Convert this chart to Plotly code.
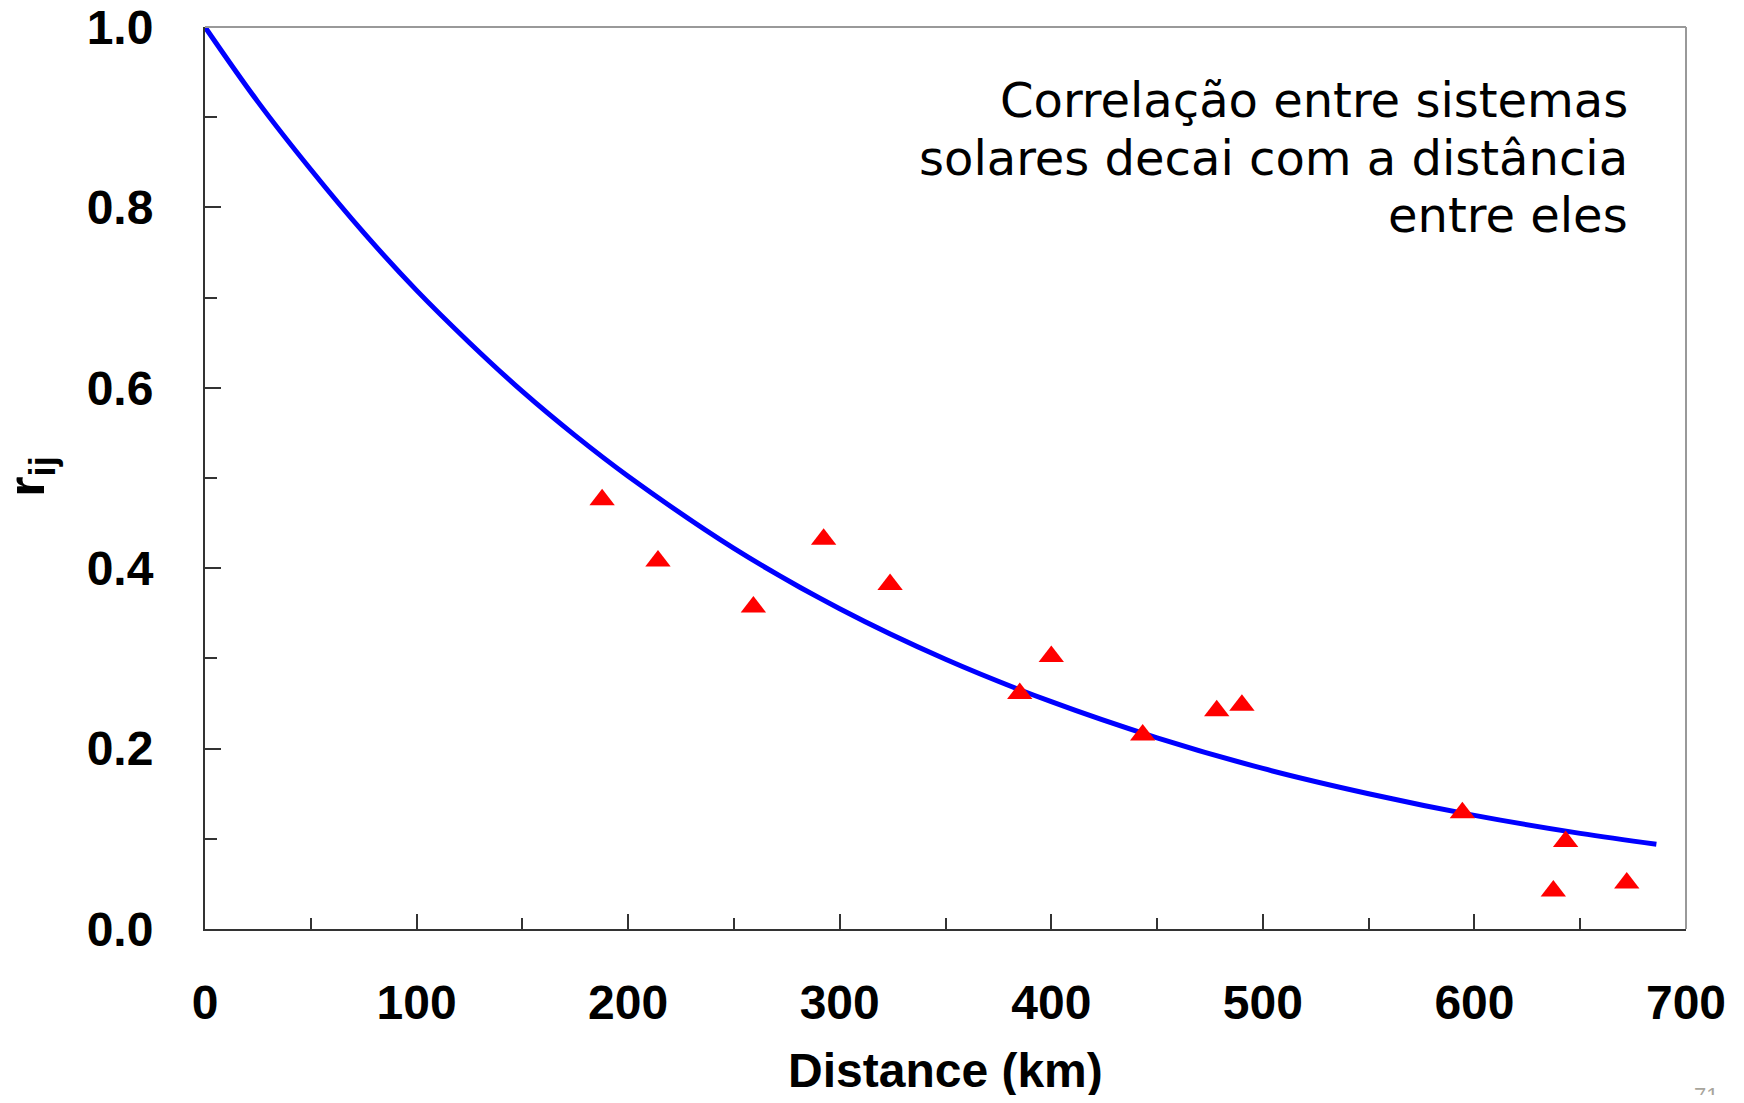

# Import needed libraries
import plotly.graph_objects as go

# Measured pairs: distance between solar systems and their correlation
distance_km = [187.7, 214.1, 259.2, 292.4, 323.8, 385.1, 400.0, 443.2, 478.2, 490.1, 594.3, 637.3, 643.1, 672.0]
correlation = [0.476, 0.408, 0.357, 0.432, 0.382, 0.261, 0.302, 0.215, 0.242, 0.248, 0.129, 0.042, 0.097, 0.051]

# Fitted decay curve
fit_km = [0, 25, 50, 75, 100, 125, 150, 175, 200, 250, 300, 350, 400, 450, 500, 550, 600, 650, 686]
fit_r = [1.000, 0.917, 0.842, 0.772, 0.708, 0.650, 0.596, 0.547, 0.502, 0.422, 0.355, 0.299,
         0.252, 0.212, 0.178, 0.150, 0.126, 0.106, 0.094]

# Axis ticks
x_ticks = [0, 100, 200, 300, 400, 500, 600, 700]
y_ticks = [0.0, 0.2, 0.4, 0.6, 0.8, 1.0]

x_title = "Distance (km)"
y_title = "r<sub>ij</sub>"
note_lines = ["Correlação entre sistemas", "solares decai com a distância", "entre eles"]
note_y = [0.919, 0.855, 0.792]
page_number = "71"

axisCol = '#333333'
frameCol = '#999999'
boldFont = dict(family="Liberation Sans, Arial", size=48, color='#000', weight='bold')

fig = go.Figure()

fig.add_trace(go.Scatter(
    x=fit_km, y=fit_r,
    mode='lines',
    line=dict(color='#0000ff', width=5, shape='spline'),
    cliponaxis=False,
    showlegend=False
))

fig.add_trace(go.Scatter(
    x=distance_km, y=correlation,
    mode='markers',
    marker=dict(symbol='triangle-up', size=22, color='#ff0000'),
    cliponaxis=False,
    showlegend=False
))

annotations = [
    # Axis titles (placed by hand, the margins would squeeze real axis titles)
    dict(
        text=x_title,
        showarrow=False,
        xref='paper', yref='paper',
        x=0.5, y=-0.157,
        xanchor='center', yanchor='middle',
        font=dict(family="Liberation Sans, Arial", size=48, color='#000', weight='bold')
    ),
    dict(
        text=y_title,
        showarrow=False,
        textangle=-90,
        xref='paper', yref='paper',
        x=-0.1178, y=0.501,
        xanchor='center', yanchor='middle',
        font=dict(family="Liberation Sans, Arial", size=52, color='#000', weight='bold')
    ),
]

# Note in the top right corner, one annotation per line
for line, y in zip(note_lines, note_y):
    annotations.append(dict(
        text=line,
        showarrow=False,
        xref='paper', yref='paper',
        x=0.962, y=y,
        xanchor='right', yanchor='middle',
        font=dict(family="DejaVu Sans", size=48, color='#000')
    ))

# Slide number
annotations.append(dict(
    text=page_number,
    showarrow=False,
    xref='paper', yref='paper',
    x=1.0135, y=-0.185,
    xanchor='center', yanchor='middle',
    font=dict(family="Liberation Sans, Arial", size=22, color='#a8a59c')
))

fig.update_layout(
    # page body keeps an 8px margin, so the figure is a bit smaller than the window
    width=1728,
    height=1087,
    plot_bgcolor='#fff',
    paper_bgcolor='#fff',
    margin={'l': 197, 'r': 50, 't': 19, 'b': 166},
    showlegend=False,

    xaxis=dict(
        range=[0, 700],
        tickvals=x_ticks,
        ticktext=[str(v) for v in x_ticks],
        ticks='inside', ticklen=15, tickwidth=2, tickcolor=axisCol,
        minor=dict(dtick=50, tick0=0, ticks='inside', ticklen=11, tickwidth=2, tickcolor=axisCol),
        showline=True, linecolor=axisCol, linewidth=2,
        showgrid=False, zeroline=False,
        tickfont=boldFont,
        ticklabelstandoff=30,
        ticklabeloverflow='allow',
        automargin=False
    ),

    yaxis=dict(
        range=[0, 1],
        tickvals=y_ticks,
        ticktext=["%.1f" % v for v in y_ticks],
        ticks='inside', ticklen=16, tickwidth=2, tickcolor=axisCol,
        minor=dict(dtick=0.1, tick0=0, ticks='inside', ticklen=12, tickwidth=2, tickcolor=axisCol),
        showline=True, linecolor=axisCol, linewidth=2,
        showgrid=False, zeroline=False,
        tickfont=boldFont,
        ticklabelstandoff=40,
        ticklabeloverflow='allow',
        automargin=False
    ),

    # Grey frame on top and right
    shapes=[
        dict(type='line', xref='paper', yref='paper', x0=0, x1=1, y0=1, y1=1,
             line=dict(color=frameCol, width=2)),
        dict(type='line', xref='paper', yref='paper', x0=1, x1=1, y0=0, y1=1,
             line=dict(color=frameCol, width=2)),
    ],

    annotations=annotations
)

fig.write_html("out.html")
